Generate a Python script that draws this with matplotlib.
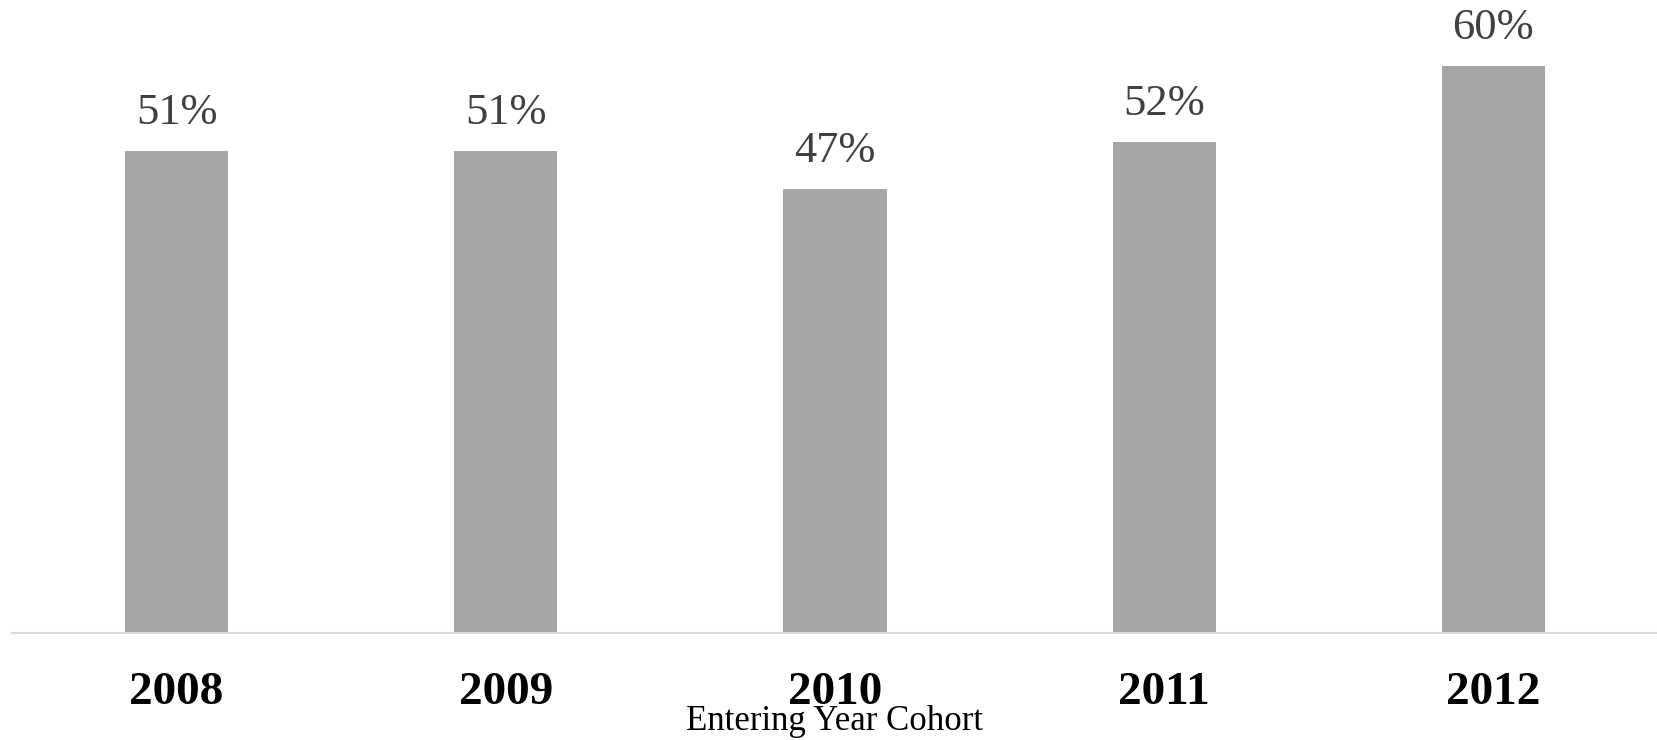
import matplotlib
matplotlib.use("Agg")
import matplotlib.pyplot as plt

years = ["2008", "2009", "2010", "2011", "2012"]
rates = [51, 51, 47, 52, 60]
value_labels = ["51%", "51%", "47%", "52%", "60%"]
x_title = "Entering Year Cohort"

W, H = 1658, 740
fig = plt.figure(figsize=(W / 100, H / 100), dpi=100)
ax = fig.add_axes([12 / W, 107 / H, 1646 / W, 633 / H])

xs = list(range(len(years)))
ax.bar(xs, rates, width=0.313, color="#a6a6a6", zorder=2)
ax.set_xlim(-0.5, 4.5)
ax.set_ylim(0, 633 / 9.45)

for x, v, lab in zip(xs, rates, value_labels):
    ax.annotate(lab, (x, v), xytext=(0, 13), textcoords="offset points",
                ha="center", va="bottom", fontsize=32, color="#404040",
                family="Liberation Serif")

for s in ["top", "right", "left"]:
    ax.spines[s].set_visible(False)
ax.spines["bottom"].set_color("#d9d9d9")
ax.spines["bottom"].set_linewidth(1.5)
ax.set_yticks([])
ax.set_xticks(xs)
ax.set_xticklabels(years, fontsize=34, fontweight="bold", family="Liberation Serif", color="black")
ax.tick_params(axis="x", length=0, pad=28)

fig.text(835 / W, 1 - 722 / H, x_title, ha="center", va="center", fontsize=25,
         family="Liberation Serif", color="black")

fig.savefig("out.png", dpi=100)
